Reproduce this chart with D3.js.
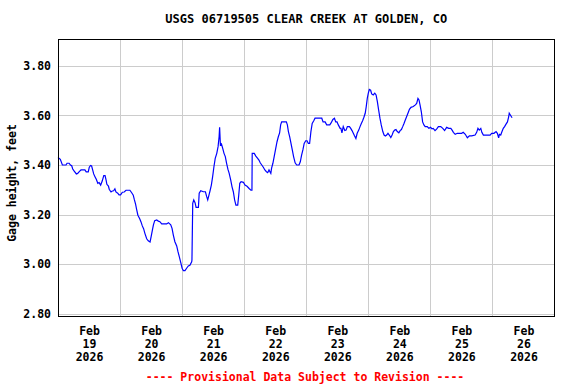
<!doctype html>
<html lang="en">
<head>
<meta charset="UTF-8">
<title>USGS 06719505 Clear Creek at Golden</title>
<script src="https://d3js.org/d3.v7.min.js"></script>
<style>
  body { margin: 0; background: #fff; }
  text { font-family: "DejaVu Sans Mono", "Liberation Mono", monospace; font-weight: bold; font-size: 11.5px; }
</style>
</head>
<body>
<div id="chart"></div>
<script>
// hours since Feb 19 2026 00:00 and gage height (ft)
var hoursSinceStart = [0, 0.9, 1.7, 3.1, 3.5, 4.3, 4.8, 5.3, 5.7, 6.2, 7.1, 7.6, 8.4, 8.9, 10.4, 10.9, 11.7, 12.1, 12.6, 13.0,
  13.4, 13.8, 14.3, 14.8, 15.4, 15.9, 16.5, 17.1, 17.7, 18.2, 18.6, 18.9, 19.5, 19.8, 20.5, 21.0, 21.5, 22.0, 22.4, 23.1,
  23.6, 24.2, 24.9, 25.6, 26.3, 27.8, 28.5, 29.1, 29.5, 30.0, 30.4, 30.9, 31.6, 32.1, 32.6, 33.1, 33.6, 34.3, 34.9, 35.6,
  36.0, 36.5, 36.9, 37.4, 38.2, 38.8, 39.4, 40.1, 42.0, 42.7, 43.6, 44.1, 44.6, 45.2, 45.9, 46.4, 46.9, 47.5, 48.0, 48.5,
  49.1, 49.8, 50.4, 51.0, 51.7, 51.8, 52.1, 52.5, 53.0, 53.4, 54.3, 54.6, 55.2, 56.2, 57.0, 57.5, 57.9, 58.4, 58.8, 59.3,
  59.8, 60.3, 60.8, 61.4, 61.9, 62.3, 62.5, 62.8, 63.2, 63.7, 64.2, 64.7, 65.2, 65.7, 66.2, 66.8, 67.3, 67.8, 68.3, 68.8,
  69.5, 69.9, 70.3, 70.8, 71.7, 72.3, 73.1, 73.9, 74.6, 75.0, 75.1, 75.9, 76.5, 77.2, 77.7, 78.2, 78.8, 79.4, 80.0, 80.6,
  81.1, 81.6, 82.3, 82.6, 83.1, 83.6, 84.2, 84.7, 85.2, 85.7, 86.1, 86.5, 88.3, 88.7, 89.1, 89.6, 90.1, 90.6, 91.1, 91.7,
  92.3, 93.2, 93.7, 94.2, 94.7, 95.2, 95.8, 96.3, 96.8, 97.3, 97.8, 98.3, 98.9, 99.4, 102.0, 102.5, 103.3, 103.9, 105.1, 105.6,
  106.3, 106.9, 107.4, 107.9, 108.4, 109.1, 109.4, 109.8, 110.3, 110.9, 111.4, 111.9, 112.7, 113.2, 113.7, 114.2, 114.7, 115.2, 115.7, 116.3,
  116.8, 117.3, 117.8, 118.3, 118.8, 119.2, 119.6, 120.0, 120.4, 120.9, 121.3, 121.9, 122.5, 123.0, 123.5, 124.0, 124.5, 125.0, 125.6, 126.1,
  126.6, 127.1, 127.6, 128.1, 128.7, 129.2, 129.7, 130.2, 130.7, 131.2, 131.8, 132.3, 132.8, 133.3, 133.8, 134.3, 134.8, 135.4, 135.9, 136.5,
  137.4, 138.2, 138.7, 139.2, 139.6, 140.0, 140.5, 141.0, 141.5, 142.0, 142.8, 143.4, 144.1, 144.6, 145.1, 145.8, 146.4, 147.1, 148.0, 148.8,
  149.5, 150.3, 151.1, 151.9, 152.4, 152.9, 153.6, 154.4, 156.1, 156.7, 157.5, 158.3, 159.1, 160.0, 161.3, 161.9, 162.4, 162.9, 163.5, 163.9,
  164.5, 167.1, 167.7, 168.6, 169.4, 169.9, 170.4, 170.7, 171.2, 171.7, 172.2, 172.7, 173.2, 173.8, 174.3, 174.5, 175.1, 175.6];
var gageHeight = [3.43, 3.423, 3.400, 3.400, 3.407, 3.407, 3.400, 3.397, 3.384, 3.376, 3.364, 3.366, 3.375, 3.380, 3.380, 3.372, 3.372, 3.391, 3.398, 3.396,
  3.380, 3.364, 3.353, 3.342, 3.326, 3.329, 3.319, 3.335, 3.357, 3.357, 3.339, 3.322, 3.315, 3.302, 3.291, 3.295, 3.296, 3.304, 3.291, 3.286,
  3.279, 3.279, 3.290, 3.291, 3.298, 3.298, 3.288, 3.278, 3.261, 3.242, 3.221, 3.197, 3.183, 3.170, 3.154, 3.143, 3.124, 3.102, 3.094, 3.089,
  3.110, 3.137, 3.158, 3.175, 3.178, 3.173, 3.171, 3.162, 3.162, 3.167, 3.158, 3.144, 3.117, 3.090, 3.073, 3.050, 3.030, 3.005, 2.983, 2.973,
  2.973, 2.984, 2.992, 2.995, 3.009, 3.016, 3.245, 3.259, 3.248, 3.229, 3.229, 3.286, 3.296, 3.292, 3.292, 3.272, 3.259, 3.279, 3.296, 3.319,
  3.353, 3.393, 3.427, 3.447, 3.474, 3.514, 3.552, 3.481, 3.485, 3.467, 3.447, 3.434, 3.407, 3.383, 3.366, 3.339, 3.312, 3.292, 3.259, 3.238,
  3.238, 3.279, 3.326, 3.333, 3.330, 3.319, 3.314, 3.305, 3.298, 3.298, 3.447, 3.447, 3.436, 3.427, 3.420, 3.409, 3.400, 3.391, 3.380, 3.373,
  3.369, 3.380, 3.366, 3.387, 3.407, 3.434, 3.467, 3.494, 3.514, 3.530, 3.562, 3.574, 3.574, 3.562, 3.535, 3.514, 3.487, 3.461, 3.434, 3.409,
  3.400, 3.400, 3.413, 3.440, 3.461, 3.487, 3.498, 3.498, 3.487, 3.487, 3.535, 3.568, 3.579, 3.589, 3.589, 3.574, 3.574, 3.562, 3.562, 3.570,
  3.584, 3.589, 3.574, 3.574, 3.562, 3.548, 3.548, 3.530, 3.555, 3.539, 3.541, 3.555, 3.555, 3.548, 3.539, 3.528, 3.517, 3.507, 3.528, 3.541,
  3.555, 3.568, 3.579, 3.593, 3.609, 3.636, 3.669, 3.690, 3.705, 3.702, 3.687, 3.683, 3.690, 3.683, 3.656, 3.622, 3.589, 3.562, 3.535, 3.521,
  3.517, 3.521, 3.528, 3.521, 3.511, 3.521, 3.535, 3.541, 3.543, 3.535, 3.530, 3.539, 3.543, 3.555, 3.568, 3.582, 3.595, 3.611, 3.625, 3.633,
  3.636, 3.643, 3.649, 3.669, 3.663, 3.643, 3.615, 3.574, 3.562, 3.555, 3.555, 3.548, 3.552, 3.546, 3.548, 3.539, 3.545, 3.555, 3.555, 3.548,
  3.539, 3.552, 3.548, 3.548, 3.541, 3.532, 3.524, 3.528, 3.528, 3.532, 3.524, 3.510, 3.518, 3.518, 3.521, 3.532, 3.548, 3.541, 3.548, 3.532,
  3.521, 3.521, 3.528, 3.528, 3.535, 3.528, 3.510, 3.524, 3.521, 3.535, 3.548, 3.555, 3.564, 3.574, 3.595, 3.609, 3.599, 3.591];

var yTicks = [2.80, 3.00, 3.20, 3.40, 3.60, 3.80];
var dayLabels = ["19", "20", "21", "22", "23", "24", "25", "26"];
var gridDays = ["2026-02-20", "2026-02-21", "2026-02-22", "2026-02-23", "2026-02-24", "2026-02-25", "2026-02-26"];

var startDate = new Date(2026, 1, 19, 0, 0);
var endDate = new Date(2026, 1, 27, 0, 0);

var width = 576, height = 384;
var margin = {top: 39, right: 21.5, bottom: 68, left: 58};

var svg = d3.select("#chart").append("svg")
    .attr("width", width)
    .attr("height", height);

var x = d3.scaleTime()
    .domain([startDate, endDate])
    .range([margin.left, width - margin.right]);

var y = d3.scaleLinear()
    .domain([2.79, 3.909])
    .range([height - margin.bottom, margin.top]);

var parseDay = d3.timeParse("%Y-%m-%d");

// gridlines
var grid = svg.append("g").attr("shape-rendering", "crispEdges");
grid.selectAll(".hgrid").data(yTicks).enter().append("line")
    .attr("x1", margin.left).attr("x2", width - margin.right)
    .attr("y1", function(d) { return Math.round(y(d)) + 0.5; })
    .attr("y2", function(d) { return Math.round(y(d)) + 0.5; })
    .attr("stroke", "#cccccc");
grid.selectAll(".vgrid").data(gridDays).enter().append("line")
    .attr("x1", function(d) { return Math.round(x(parseDay(d))) + 0.5; })
    .attr("x2", function(d) { return Math.round(x(parseDay(d))) + 0.5; })
    .attr("y1", margin.top).attr("y2", height - margin.bottom)
    .attr("stroke", "#cccccc");

// data line
var points = hoursSinceStart.map(function(h, i) {
    return {t: d3.timeMinute.offset(startDate, Math.round(h * 60)), v: gageHeight[i]};
});
var line = d3.line()
    .x(function(d) { return x(d.t); })
    .y(function(d) { return y(d.v); });
svg.append("path")
    .datum(points)
    .attr("d", line)
    .attr("fill", "none")
    .attr("stroke", "#0000ff")
    .attr("stroke-width", 1.2);

// frame
svg.append("rect")
    .attr("x", margin.left + 0.5).attr("y", margin.top + 0.5)
    .attr("width", width - margin.left - margin.right - 1)
    .attr("height", height - margin.top - margin.bottom)
    .attr("fill", "none")
    .attr("stroke", "#000")
    .attr("shape-rendering", "crispEdges");

// y axis labels
var yAxis = d3.axisLeft(y).tickValues(yTicks).tickSize(0).tickPadding(7).tickFormat(d3.format(".2f"));
var yg = svg.append("g").attr("transform", "translate(" + margin.left + ",0)").call(yAxis);
yg.select(".domain").remove();
yg.selectAll("text").attr("font-family", null).attr("font-size", null).attr("fill", "#000");

// x axis labels: Feb / day / year, centred under each day
var labelDates = dayLabels.map(function(d) { return new Date(2026, 1, +d, 12, 0); });
var xAxis = d3.axisBottom(x).tickValues(labelDates).tickSize(0).tickFormat("");
var xg = svg.append("g").attr("transform", "translate(0," + (height - margin.bottom) + ")").call(xAxis);
xg.select(".domain").remove();
xg.selectAll(".tick text").remove();
xg.selectAll(".tick").each(function(d, i) {
    var t = d3.select(this).append("text").attr("fill", "#000").attr("text-anchor", "middle");
    t.append("tspan").attr("x", 0).attr("y", 18.5).text("Feb");
    t.append("tspan").attr("x", 0).attr("y", 32).text(dayLabels[i]);
    t.append("tspan").attr("x", 0).attr("y", 45).text("2026");
});

// title
svg.append("text")
    .attr("x", (margin.left + width - margin.right) / 2)
    .attr("y", 23)
    .attr("text-anchor", "middle")
    .style("font-size", "12px")
    .text("USGS 06719505 CLEAR CREEK AT GOLDEN, CO");

// y title
svg.append("text")
    .attr("transform", "translate(16,183) rotate(-90)")
    .attr("text-anchor", "middle")
    .text("Gage height, feet");

// footer
svg.append("text")
    .attr("x", 305)
    .attr("y", 381)
    .attr("text-anchor", "middle")
    .attr("fill", "#ff0000")
    .text("---- Provisional Data Subject to Revision ----");
</script>
</body>
</html>
